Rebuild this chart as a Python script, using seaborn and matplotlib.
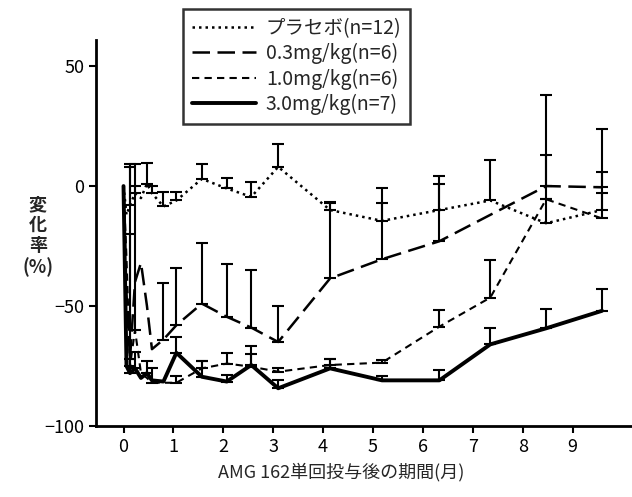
import numpy as np
import pandas as pd
import matplotlib
matplotlib.use("Agg")
import matplotlib.pyplot as plt
import seaborn as sns
from matplotlib.lines import Line2D

# ---- data ----
months = [0, 0.06, 0.13, 0.23, 0.35, 0.47, 0.57, 0.8, 1.06, 1.57, 2.07, 2.56,
          3.1, 4.14, 5.18, 6.33, 7.35, 8.47, 9.59]
x_ticks = [0, 1, 2, 3, 4, 5, 6, 7, 8, 9]
y_ticks = [50, 0, -50, -100]

labels = ["プラセボ(n=12)", "0.3mg/kg(n=6)", "1.0mg/kg(n=6)", "3.0mg/kg(n=7)"]

placebo_mean = [0, -12, -8, -3, -5, 1, -3, -8.5, -6, 3, -1, -4.5, 8, -10, -14.5, -10, -6, -15.5, -10]
placebo_top = [np.nan, np.nan, 9, 0, np.nan, 9.5, 0, -2.5, -2.5, 9, 3.5, 1.5, 17.5, -7, -7, 1, 11, -5.5, 6]

d03_mean = [0, -45, -72, -40, -32, -50, -68, -64, -58, -49, -54.5, -59, -65, -38.5, -30.5, -23, -12, 0, -0.5]
d03_top = [np.nan, np.nan, -20, np.nan, np.nan, np.nan, np.nan, -40.5, -34, -23.6, -32.5, -35, -50, -6.5, -1, 4, np.nan, 38, 24]

d10_mean = [0, -30, -75, -60, -78, -80, -82, -82, -82, -76, -74, -75.3, -77.4, -74.6, -73.6, -58.6, -46.5, -5.5, -13.5]
d10_top = [np.nan, np.nan, 8, 9, np.nan, np.nan, -76, np.nan, -79, -72.8, -69.5, -70, -76, -72, -72.5, -51.7, -31, 13, -3]

d30_mean = [0, -75, -78, -76, -80, -78, -81, -81.5, -69.5, -79.5, -81.5, -74.6, -84.3, -76, -81, -81, -66, -59.3, -52]
d30_top = [np.nan, np.nan, -72, -69, np.nan, -73, np.nan, np.nan, -62.8, -73, -78.8, -66.7, -81, -72, -79, -76.7, -59, -51.4, -43]

means = [placebo_mean, d03_mean, d10_mean, d30_mean]
tops = [placebo_top, d03_top, d10_top, d30_top]

# ---- styling ----
styles = [
    dict(ls=(0, (1, 1.6)), lw=1.8),
    dict(ls=(0, (7, 3)), lw=1.8),
    dict(ls=(0, (3.5, 2.5)), lw=1.5),
    dict(ls="-", lw=2.8),
]

sns.set_theme(style="white")
plt.rcParams["font.family"] = ["Noto Sans CJK JP", "DejaVu Sans"]

fig = plt.figure(figsize=(6.32, 4.97), dpi=100)
ax = fig.add_axes([0.152, 0.143, 0.848, 0.777])

for lab, m, t, st in zip(labels, means, tops, styles):
    df = pd.DataFrame({"month": months, "value": m, "top": t})
    sns.lineplot(data=df, x="month", y="value", ax=ax, color="black",
                 linewidth=st["lw"], linestyle=st["ls"], estimator=None,
                 sort=False)
    e = df.dropna(subset=["top"])
    up = (e["top"] - e["value"]).clip(lower=0).values
    ax.errorbar(e["month"], e["value"], yerr=[np.zeros_like(up), up],
                fmt="none", ecolor="black", elinewidth=1.5, capsize=4,
                capthick=1.5)

ax.set_xlim(-0.55, 10.19)
ax.set_ylim(-100, 61)
ax.set_xticks(x_ticks)
ax.set_yticks(y_ticks)
ax.set_yticklabels([str(v).replace("-", "\u2212") for v in y_ticks])
ax.set_xlabel("")
ax.set_ylabel("")
for s in ["top", "right"]:
    ax.spines[s].set_visible(False)
for s in ["left", "bottom"]:
    ax.spines[s].set_color("black")
    ax.spines[s].set_linewidth(2)
ax.tick_params(axis="both", direction="out", length=5, width=1.5,
               colors="black", labelsize=13, left=True, bottom=True)
ax.grid(False)

fig.text(0.54, 0.05, "AMG 162単回投与後の期間(月)", ha="center", va="center",
         fontsize=13)
fig.text(0.06, 0.525, "変\n化\n率\n(%)", ha="center", va="center",
         fontsize=13, linespacing=1.1, fontweight="bold")

handles = [Line2D([0], [0], color="black", linestyle=st["ls"], linewidth=st["lw"])
           for st in styles]
leg = fig.legend(handles, labels, loc="upper left",
                 bbox_to_anchor=(0.29, 0.982), borderaxespad=0,
                 frameon=True, fontsize=14,
                 handlelength=3.3, handletextpad=0.5, labelspacing=0.22,
                 borderpad=0.45, fancybox=False)
leg.get_frame().set_edgecolor("black")
leg.get_frame().set_linewidth(1.8)
leg.get_frame().set_facecolor("white")

fig.savefig("out.png", dpi=100)
